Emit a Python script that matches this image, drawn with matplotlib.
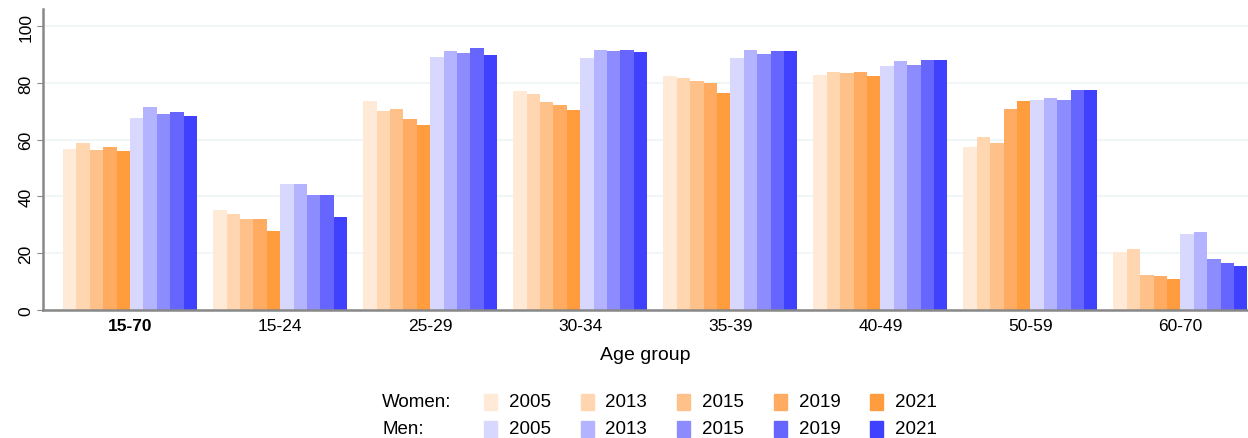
import matplotlib.pyplot as plt
import numpy as np
from matplotlib.patches import Rectangle

plt.rcParams['font.family'] = ['Liberation Sans', 'DejaVu Sans']

# Data
groups = ["15-70", "15-24", "25-29", "30-34", "35-39", "40-49", "50-59", "60-70"]
years = ["2005", "2013", "2015", "2019", "2021"]

women_2005 = [56.8, 35.4, 73.5, 77.3, 82.4, 82.8, 57.3, 20.4]
women_2013 = [58.8, 33.9, 70.1, 76.0, 81.7, 83.9, 60.8, 21.4]
women_2015 = [56.2, 31.9, 70.7, 73.2, 80.6, 83.6, 58.9, 12.2]
women_2019 = [57.4, 31.9, 67.2, 72.1, 80.1, 83.9, 70.7, 11.8]
women_2021 = [56.0, 28.0, 65.1, 70.4, 76.4, 82.5, 73.5, 10.9]

men_2005 = [67.8, 44.5, 89.2, 88.6, 88.8, 85.9, 74.1, 26.6]
men_2013 = [71.5, 44.5, 91.1, 91.7, 91.5, 87.8, 74.8, 27.3]
men_2015 = [69.2, 40.6, 90.6, 91.3, 90.1, 86.4, 74.1, 18.0]
men_2019 = [69.9, 40.4, 92.2, 91.7, 91.3, 88.2, 77.4, 16.5]
men_2021 = [68.2, 32.9, 89.7, 90.8, 91.3, 87.9, 77.4, 15.5]

women = [women_2005, women_2013, women_2015, women_2019, women_2021]
men = [men_2005, men_2013, men_2015, men_2019, men_2021]

women_colors = ["#FFEAD8", "#FFD6B0", "#FFC18A", "#FFAC62", "#FF9D3E"]
men_colors = ["#D8D8FF", "#B3B3FF", "#8C8CFF", "#6666FF", "#4040FF"]

fig = plt.figure(figsize=(12.48, 4.39), dpi=100)
ax = fig.add_axes([0.0345, 0.2916, 0.9655, 0.6854])

x = np.arange(len(groups))
w = 0.0893
series = women + men
colors = women_colors + men_colors
for i, (vals, c) in enumerate(zip(series, colors)):
    ax.bar(x + (i - 4.5) * w, vals, width=w, color=c, linewidth=0, zorder=2)

ax.set_xlim(-0.58, 7.45)
ax.set_ylim(0, 106)
ax.set_yticks([0, 20, 40, 60, 80, 100])
ax.tick_params(axis='y', labelrotation=90, labelsize=12.5, length=4, color="#888888", pad=3)
for lbl in ax.get_yticklabels():
    lbl.set_va('center')
ax.set_xticks(x)
ax.set_xticklabels(groups, fontsize=12.5)
ax.get_xticklabels()[0].set_fontweight('bold')
ax.tick_params(axis='x', length=0, pad=6)
ax.set_xlabel("Age group", fontsize=14, labelpad=9)

ax.grid(axis='y', color="#EEF3F5", linewidth=1.2, zorder=0)
ax.set_axisbelow(True)
for s in ["top", "right"]:
    ax.spines[s].set_visible(False)
for s in ["left", "bottom"]:
    ax.spines[s].set_color("#888888")
    ax.spines[s].set_linewidth(1.8)

# Legend built by hand
W, H = 1248, 439
rows = [("Women:", women_colors, 403), ("Men:", men_colors, 430)]
for title, cols, ypx in rows:
    fig.text(382 / W, 1 - ypx / H, title, fontsize=13.5, va='center', ha='left')
    for j, (yr, c) in enumerate(zip(years, cols)):
        xp = 484 + j * 96.5
        fig.patches.append(Rectangle((xp / W, 1 - (ypx + 8) / H), 13 / W, 16 / H,
                                     transform=fig.transFigure, color=c))
        fig.text((xp + 25) / W, 1 - ypx / H, yr, fontsize=13.5, va='center', ha='left')

fig.savefig("out.png", dpi=100)
